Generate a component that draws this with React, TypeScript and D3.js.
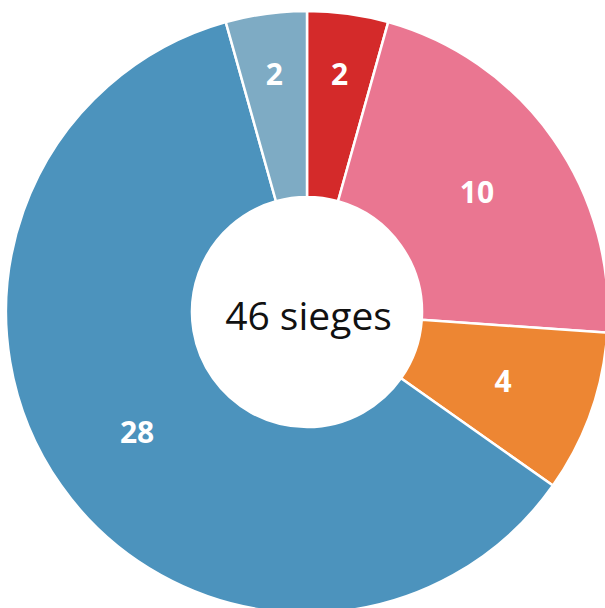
import React from "react";
import * as d3 from "d3";

const categories = ["Groupe A", "Groupe B", "Groupe C", "Groupe D", "Groupe E"];
const seats = [2, 10, 4, 28, 2];
const colors = ["#D42A2A", "#EA7691", "#ED8633", "#4C93BD", "#7EABC4"];
const centerLabel = "46 sieges";

const W = 605;
const H = 608;
const CX = 307;
const CY = 312;
const R_OUT = 301;
const R_IN = 115;

export default function App() {
  const pie = d3
    .pie<number>()
    .sort(null)
    .value((d) => d);
  const arcs = pie(seats);
  const arcGen = d3
    .arc<d3.PieArcDatum<number>>()
    .innerRadius(R_IN)
    .outerRadius(R_OUT);
  const midR = (R_IN + R_OUT) / 2;
  const smallR = 240;
  const labelArc = (d: d3.PieArcDatum<number>) => {
    const r = d.endAngle - d.startAngle < 0.35 ? smallR : midR;
    return d3.arc<d3.PieArcDatum<number>>().innerRadius(r).outerRadius(r)(d) && d3
      .arc<d3.PieArcDatum<number>>()
      .innerRadius(r)
      .outerRadius(r)
      .centroid(d);
  };
  const total = d3.sum(seats);
  const labelSize = 30;

  return (
    <svg
      width={W}
      height={H}
      style={{ position: "absolute", left: 0, top: 0, display: "block" }}
    >
      <g transform={`translate(${CX},${CY})`}>
        {arcs.map((d, i) => (
          <path
            key={categories[i]}
            d={arcGen(d) || ""}
            fill={colors[i]}
            stroke="#ffffff"
            strokeWidth={2.5}
          />
        ))}
        {arcs.map((d, i) => {
          const [x, y] = labelArc(d) as [number, number];
          return (
            <text
              key={"l" + categories[i]}
              x={x}
              y={y + labelSize * 0.36}
              textAnchor="middle"
              fill="#ffffff"
              fontFamily="'Open Sans', sans-serif"
              fontWeight={700}
              fontSize={labelSize}
            >
              {d.data}
            </text>
          );
        })}
        <text
          x={1.5}
          y={18}
          textAnchor="middle"
          fill="#111111"
          fontFamily="'Open Sans', sans-serif"
          fontWeight={400}
          fontSize={39}
        >
          {total === 46 ? centerLabel : `${total} sieges`}
        </text>
      </g>
    </svg>
  );
}
